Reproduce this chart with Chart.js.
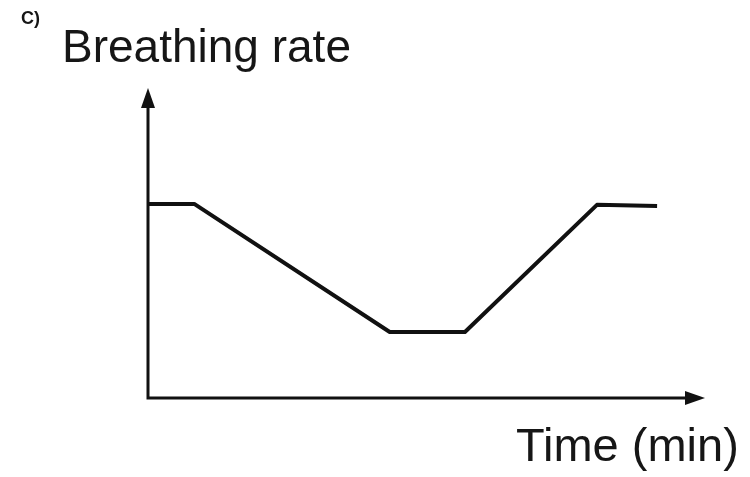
<!DOCTYPE html>
<html>
<head>
<meta charset="utf-8">
<script src="https://cdn.jsdelivr.net/npm/chart.js@4"></script>
<style>
  html, body { margin: 0; padding: 0; background: #fff; }
  #wrap { position: relative; width: 750px; height: 477px; overflow: hidden; }
  canvas { position: absolute; left: 0; top: 0; }
  .lbl { position: absolute; font-family: "Liberation Sans", Arial, sans-serif; color: #161616; white-space: nowrap; line-height: 1; }
  #part { left: 21px; top: 9px; font-size: 18px; font-weight: bold; }
  #ytitle { left: 62px; top: 23px; font-size: 46px; }
  #xtitle { left: 516px; top: 421px; font-size: 47px; }
</style>
</head>
<body>
<div id="wrap">
  <canvas id="chart" width="750" height="477"></canvas>
  <div class="lbl" id="part">C)</div>
  <div class="lbl" id="ytitle">Breathing rate</div>
  <div class="lbl" id="xtitle">Time (min)</div>
</div>
<script>
// sketch values (axis units 0-100, no numeric ticks on the original)
const timePoints = [0, 8.3, 43.4, 56.9, 80.6, 91.4];
const breathingRate = [62.6, 62.6, 21.3, 21.3, 62.3, 61.9];

const axisArrows = {
  id: "axisArrows",
  afterDraw(chart) {
    const { ctx, chartArea } = chart;
    const left = chartArea.left, bottom = chartArea.bottom;
    const top = chartArea.top, right = chartArea.right;
    ctx.save();
    ctx.strokeStyle = "#111";
    ctx.fillStyle = "#111";
    ctx.lineWidth = 3;
    ctx.beginPath();
    ctx.moveTo(left, top + 12);
    ctx.lineTo(left, bottom);
    ctx.lineTo(right - 12, bottom);
    ctx.stroke();
    // y arrow head
    ctx.beginPath();
    ctx.moveTo(left, top);
    ctx.lineTo(left - 7, top + 20);
    ctx.lineTo(left + 7, top + 20);
    ctx.closePath();
    ctx.fill();
    // x arrow head
    ctx.beginPath();
    ctx.moveTo(right, bottom);
    ctx.lineTo(right - 20, bottom - 7);
    ctx.lineTo(right - 20, bottom + 7);
    ctx.closePath();
    ctx.fill();
    ctx.restore();
  }
};

new Chart(document.getElementById("chart"), {
  type: "line",
  data: {
    datasets: [{
      data: timePoints.map((t, i) => ({ x: t, y: breathingRate[i] })),
      borderColor: "#111",
      borderWidth: 4,
      pointRadius: 0,
      tension: 0,
      borderJoinStyle: "round",
      borderCapStyle: "butt"
    }]
  },
  options: {
    responsive: false,
    animation: false,
    layout: { padding: { left: 148, right: 45, top: 88, bottom: 79 } },
    plugins: { legend: { display: false }, tooltip: { enabled: false } },
    scales: {
      x: { type: "linear", min: 0, max: 100, display: false },
      y: { min: 0, max: 100, display: false }
    }
  },
  plugins: [axisArrows]
});
</script>
</body>
</html>
